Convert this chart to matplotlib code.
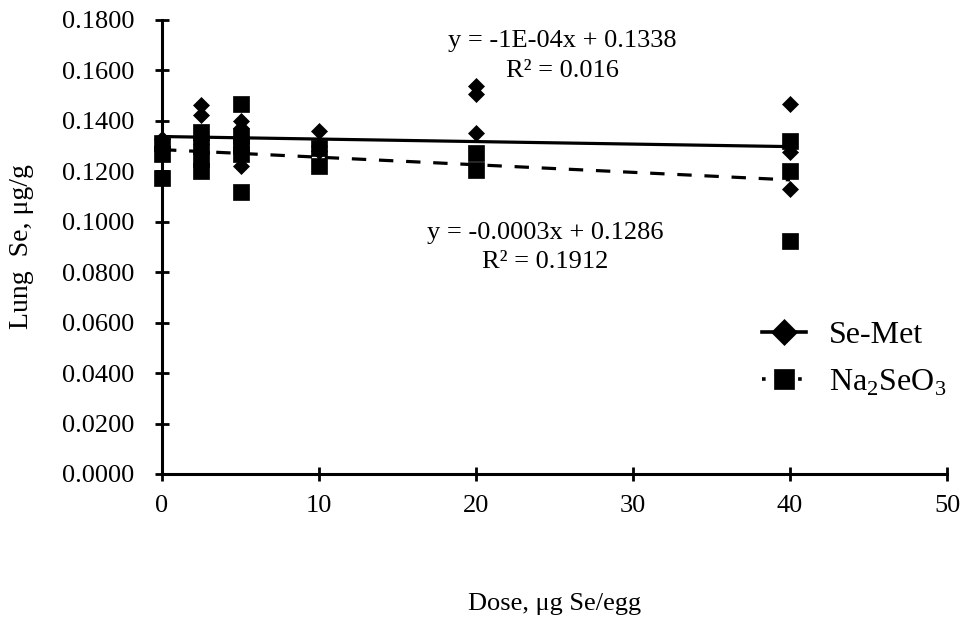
import matplotlib
matplotlib.use("Agg")
import matplotlib.pyplot as plt
import numpy as np
from matplotlib.lines import Line2D
from matplotlib.ticker import FuncFormatter

plt.rcParams['font.family'] = ['Liberation Serif', 'DejaVu Serif']
plt.rcParams['mathtext.fontset'] = 'custom'
plt.rcParams['mathtext.rm'] = 'Liberation Serif'

# Lung selenium by dose (µg Se/egg)
semet_dose = [0, 0, 0,
              2.5, 2.5, 2.5, 2.5,
              5, 5, 5, 5,
              10, 10, 10,
              20, 20, 20,
              40, 40, 40]
semet_se = [0.1330, 0.1300, 0.1280,
            0.1464, 0.1425, 0.1340, 0.1310,
            0.1400, 0.1370, 0.1330, 0.1223,
            0.1359, 0.1300, 0.1280,
            0.1540, 0.1505, 0.1352,
            0.1468, 0.1277, 0.1130]

selenite_dose = [0, 0, 0,
                 2.5, 2.5, 2.5, 2.5,
                 5, 5, 5, 5, 5,
                 10, 10,
                 20, 20,
                 40, 40, 40]
selenite_se = [0.1311, 0.1267, 0.1173,
               0.1355, 0.1300, 0.1250, 0.1200,
               0.1468, 0.1340, 0.1300, 0.1270, 0.1120,
               0.1292, 0.1221,
               0.1272, 0.1206,
               0.1321, 0.1202, 0.0922]

# Linear trend lines (slope, intercept) and R²
semet_fit = (-0.0001, 0.1338)
semet_r2 = 0.016
selenite_fit = (-0.0003, 0.1286)
selenite_r2 = 0.1912
fit_range = [0, 40]

x_ticks = [0, 10, 20, 30, 40, 50]
y_ticks = [0.0, 0.02, 0.04, 0.06, 0.08, 0.10, 0.12, 0.14, 0.16, 0.18]

fig = plt.figure(figsize=(9.63, 6.29), dpi=100)
ax = fig.add_axes([162/963, 1-474/629, (947-162)/963, (474-20)/629])

ax.plot(semet_dose, semet_se, linestyle='none', marker='D', ms=8.6,
        color='black', mew=0.5, clip_on=False, zorder=3)
ax.plot(selenite_dose, selenite_se, linestyle='none', marker='s', ms=11.8,
        color='black', mew=0.5, clip_on=False, zorder=4)

xf = np.array(fit_range, dtype=float)
ax.plot(xf, semet_fit[0]*xf + semet_fit[1], color='black', lw=2.3,
        solid_capstyle='butt', zorder=5)
ax.plot(xf, selenite_fit[0]*xf + selenite_fit[1], color='black', lw=2.3,
        linestyle=(0, (4.5, 4)), zorder=5)

ax.set_xlim(0, 50)
ax.set_ylim(0, 0.18)
ax.set_xticks(x_ticks)
ax.set_yticks(y_ticks)
ax.yaxis.set_major_formatter(FuncFormatter(lambda v, p: f"{v:.4f}"))

for s in ['top', 'right']:
    ax.spines[s].set_visible(False)
for s in ['left', 'bottom']:
    ax.spines[s].set_linewidth(2.2)
ax.tick_params(axis='both', direction='inout', length=10, width=2.0,
               labelsize=19, colors='black')
ax.tick_params(axis='y', pad=15)
ax.tick_params(axis='x', pad=10)

ax.set_ylabel('Lung  Se, μg/g', fontsize=20, labelpad=20)
ax.set_xlabel('Dose, μg Se/egg', fontsize=19, labelpad=55)

ax.text(25.5, 0.1716, f"y = -1E-04x + {semet_fit[1]:.4f}", fontsize=19,
        ha='center', va='center')
ax.text(25.5, 0.1597, f"R² = {semet_r2}", fontsize=19, ha='center', va='center')
ax.text(24.4, 0.0957, f"y = {selenite_fit[0]:.4f}x + {selenite_fit[1]:.4f}",
        fontsize=19, ha='center', va='center')
ax.text(24.4, 0.0842, f"R² = {selenite_r2}", fontsize=19, ha='center', va='center')

handles = [
    Line2D([], [], color='black', lw=2.6, marker='D', ms=13, mew=0.5),
    Line2D([], [], color='black', lw=2.6, linestyle=(0, (1, 4)), marker='s',
           ms=15, mew=0.5),
]
leg = ax.legend(handles, ['Se-Met', r'Na$_2$SeO$_3$'], loc='center left',
                bbox_to_anchor=(0.764, 0.253), frameon=False, fontsize=23,
                handlelength=1.4, handletextpad=0.7, labelspacing=0.55,
                borderpad=0, borderaxespad=0)

fig.savefig('out.png', dpi=100)
